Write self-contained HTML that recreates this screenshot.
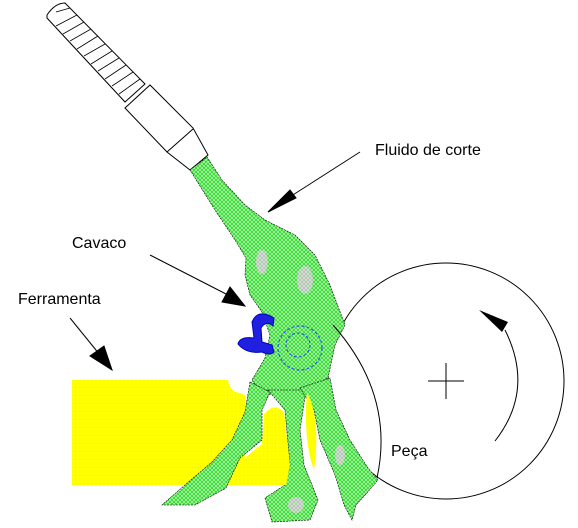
<!DOCTYPE html>
<html><head><meta charset="utf-8"><style>
html,body{margin:0;padding:0;background:#fff;}
svg{display:block;}
text{font-family:"Liberation Sans",sans-serif;font-size:16px;fill:#000;}
</style></head><body>
<svg width="578" height="528" viewBox="0 0 578 528">
<defs>
<pattern id="hatchG" width="4" height="4" patternUnits="userSpaceOnUse">
<rect width="4" height="4" fill="#c8f0c0"/>
<path d="M0,0 L4,4 M4,0 L0,4" stroke="#2ee02e" stroke-width="1"/>
</pattern>
<pattern id="hatchGray" width="4" height="4" patternUnits="userSpaceOnUse">
<rect width="4" height="4" fill="#e0e0e0"/>
<path d="M0,0 L4,4 M4,0 L0,4" stroke="#b0c8b0" stroke-width="1"/>
</pattern>
<pattern id="hatchY" width="4" height="4" patternUnits="userSpaceOnUse">
<rect width="4" height="4" fill="#ffff00"/>
<rect x="1" y="1" width="1" height="1" fill="#fffbb0"/>
</pattern>
</defs>
<g stroke="#000" stroke-width="1" fill="#fff">
<path d="M47,15 Q55,3 65,3 L145,84 L125,102 L47,18 Z"/>
<g stroke-width="0.8">
<line x1="56" y1="12" x2="70" y2="8"/><line x1="56" y1="26" x2="77" y2="15"/>
<line x1="63" y1="34" x2="84" y2="22"/><line x1="70" y1="41" x2="91" y2="29"/>
<line x1="77" y1="49" x2="98" y2="36"/><line x1="84" y1="56" x2="105" y2="44"/>
<line x1="91" y1="64" x2="112" y2="51"/><line x1="98" y1="71" x2="119" y2="58"/>
<line x1="105" y1="79" x2="126" y2="65"/><line x1="112" y1="86" x2="133" y2="72"/>
<line x1="119" y1="94" x2="140" y2="79"/>
</g>
<path d="M125,108 L150,85 L193,128 L208,155 L190,170 L167,152 Z"/>
<line x1="167" y1="152" x2="193" y2="129"/>
</g>
<rect x="72" y="380" width="173" height="105" fill="url(#hatchY)"/>
<path d="M228,380 Q230,392 240,393 L245,395 L245,380 Z" fill="#fff"/>
<circle cx="446" cy="381" r="118" fill="none" stroke="#000"/>
<g fill="url(#hatchG)" stroke="#000" stroke-width="0.6" stroke-dasharray="2,1">
<path d="M190,170 L207,157 L222,180 L245,205 L265,220 L295,235 L315,255 L330,285 L345,325 L335,345 L328,378 L300,392 L262,395 L252,380 L265,358 L270,335 L262,312 L250,295 L245,275 L246,258 L235,240 L215,210 Z"/>
<path d="M250,382 L270,392 L262,410 L262,440 L240,458 L226,488 L195,505 L162,505 L185,485 L212,462 L232,440 L245,412 Z"/>
<path d="M268,390 L306,390 L300,430 L304,465 L318,500 L310,520 L272,522 L265,498 L285,485 L290,465 L285,410 Z"/>
<path d="M300,388 L330,378 L336,410 L350,440 L368,468 L378,480 L366,494 L356,505 L352,520 L344,505 L335,475 L320,440 L314,410 Z"/>
</g>
<path d="M264,414 Q274,402 284,412 L290,465 L286,485 L228,485 L242,460 L262,444 Z" fill="url(#hatchY)"/>
<path d="M307,392 Q321,420 314,470 Q303,440 307,392 Z" fill="#ffff00"/>
<g fill="url(#hatchGray)">
<ellipse cx="262" cy="262" rx="6" ry="12"/>
<ellipse cx="305" cy="280" rx="8" ry="14"/>
<ellipse cx="296" cy="505" rx="8" ry="8"/>
<ellipse cx="340" cy="455" rx="5" ry="10"/>
</g>
<path d="M333,325 Q395,395 377,478" fill="none" stroke="#000"/>
<g>
<path d="M274,318 Q258,308 252,322 L254,338 Q240,336 238,344 Q246,354 262,352 Q270,356 274,352 L272,345 L262,342 L261,328 Q266,320 273,326 Z" fill="#2020e0" stroke="#0000c0"/>
<circle cx="298" cy="345" r="12" fill="none" stroke="#2040ff" stroke-dasharray="3,2"/>
<circle cx="300" cy="348" r="22" fill="none" stroke="#2040ff" stroke-dasharray="3,2"/>
</g>
<g>
<path d="M495,441 Q535,390 505,330" fill="none" stroke="#000"/>
<path d="M479,310 L508,322 L502,332 Z" fill="#000"/>
</g>
<g stroke="#000">
<line x1="428" y1="381" x2="464" y2="381"/><line x1="446" y1="363" x2="446" y2="399"/>
</g>
<g stroke="#000" fill="#000">
<line x1="360" y1="152" x2="285" y2="200"/><path d="M268,212 L290,190 L296,198 Z"/>
<line x1="150" y1="255" x2="228" y2="295"/><path d="M245,306 L222,302 L230,287 Z"/>
<line x1="70" y1="318" x2="100" y2="355"/><path d="M112,370 L90,356 L104,346 Z"/>
</g>
<text x="375" y="155">Fluido de corte</text>
<text x="72" y="248">Cavaco</text>
<text x="18" y="304">Ferramenta</text>
<text x="391" y="456">Peça</text>
</svg>
</body></html>
